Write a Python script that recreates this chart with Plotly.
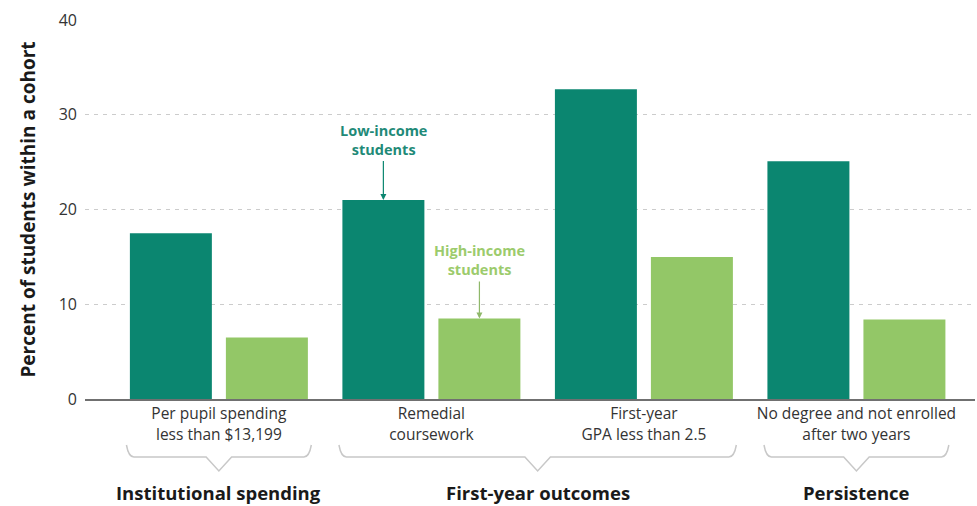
import plotly.graph_objects as go

# Data
measures = ["Per pupil spending<br>less than $13,199", "Remedial<br>coursework",
            "First-year<br>GPA less than 2.5", "No degree and not enrolled<br>after two years"]
low_income = [17.5, 21.0, 32.7, 25.1]
high_income = [6.5, 8.5, 15.0, 8.4]
groups = ["Institutional spending", "First-year outcomes", "Persistence"]
group_members = [[0], [1, 2], [3]]
y_ticks = [0, 10, 20, 30, 40]

DARK = "#0b8670"
LIGHT = "#93c767"
TEXT = "#333333"
FONT = "Open Sans"

x_pos = list(range(len(measures)))

fig = go.Figure()
fig.add_trace(go.Bar(x=x_pos, y=low_income, name="Low-income students",
                     marker=dict(color=DARK, line_width=0)))
fig.add_trace(go.Bar(x=x_pos, y=high_income, name="High-income students",
                     marker=dict(color=LIGHT, line_width=0)))

# Pixel geometry of the plot area
L, R, T, B = 85, 2, 20, 107
W, H = 977, 506
plot_h = H - T - B


def ypaper(py):
    return (H - B - py) / plot_h


# Braces under category groups
half = 0.435
for gname, members in zip(groups, group_members):
    x0 = members[0] - half
    x1 = members[-1] + half
    xc = (members[0] + members[-1]) / 2
    yt, yh, yn = ypaper(445), ypaper(457), ypaper(471)
    dx = 0.035
    path = (f"M {x0},{yt} Q {x0 + 0.01},{yh} {x0 + dx},{yh} L {xc - 0.06},{yh} "
            f"L {xc},{yn} L {xc + 0.06},{yh} L {x1 - dx},{yh} Q {x1 - 0.01},{yh} {x1},{yt}")
    fig.add_shape(type="path", path=path, xref="x", yref="paper",
                  line=dict(color="#c8c8c8", width=1.5))
    fig.add_annotation(x=xc, y=ypaper(492), xref="x", yref="paper", text=f"<b>{gname}</b>",
                       showarrow=False, font=dict(family=FONT, size=18.5, color="#1a1a1a"),
                       yanchor="middle")

# Series callouts
fig.add_annotation(x=0.774, y=low_income[1], xref="x", yref="y",
                   text="<b>Low-income<br>students</b>", showarrow=True,
                   arrowhead=2, arrowsize=1, arrowwidth=1.2, arrowcolor=DARK,
                   ax=0, ay=-39, font=dict(family=FONT, size=14.5, color="#1f8a78"),
                   yanchor="bottom", align="center")
fig.add_annotation(x=1.226, y=high_income[1], xref="x", yref="y",
                   text="<b>High-income<br>students</b>", showarrow=True,
                   arrowhead=2, arrowsize=1, arrowwidth=1.2, arrowcolor="#8fb86a",
                   ax=0, ay=-37, font=dict(family=FONT, size=14.5, color="#9ccb6c"),
                   yanchor="bottom", align="center")

fig.update_layout(
    width=W, height=H,
    margin=dict(l=L, r=R, t=T, b=B),
    paper_bgcolor="white", plot_bgcolor="white",
    barmode="group", bargap=0.0965, bargroupgap=0.146,
    showlegend=False,
    font=dict(family=FONT, color=TEXT),
    xaxis=dict(range=[-0.63, 3.558], tickvals=x_pos, ticktext=measures,
               tickfont=dict(size=15.5, color=TEXT), showgrid=False,
               showline=True, linecolor="#707070", linewidth=1.5, ticks="",
               zeroline=False, fixedrange=True),
    yaxis=dict(range=[0, 40], tickvals=y_ticks, tickfont=dict(size=16, color=TEXT),
               showgrid=True, gridcolor="#cccccc", griddash="4px,5px", gridwidth=1,
               zeroline=False, showline=False, ticks="", ticklabelstandoff=7,
               title=dict(text="<b>Percent of students within a cohort</b>",
                          font=dict(size=19, color="#1a1a1a"), standoff=18)),
)

fig.write_html("out.html")
